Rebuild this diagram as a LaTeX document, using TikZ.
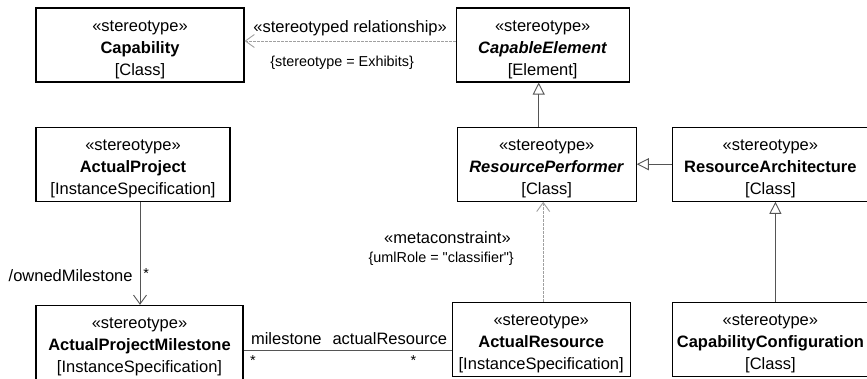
\documentclass[tikz,border=0pt]{standalone}
\usepackage{fontspec}
\setmainfont{Liberation Sans}[Ligatures=TeXOff]
\usepackage{xcolor}
\usetikzlibrary{arrows.meta, positioning, calc}
\definecolor{darkline}{HTML}{555555}
\definecolor{lightline}{HTML}{A0A0A0}
\newcommand{\stereobox}[2]{\rule{0pt}{20pt}«stereotype»\\#1\\{[#2]}}
\tikzset{
	stereo/.style={rectangle, draw, line width=1.2pt, align=center, inner sep=0pt,
		minimum height=74pt, font=\fontsize{16.5}{22}\selectfont},
	gen/.style={-{Triangle[open, length=12pt, width=12pt]}, line width=0.9pt, draw=darkline},
	nav/.style={-{Straight Barb[length=9pt, width=13pt]}, line width=0.9pt, draw=darkline},
	meta/.style={nav, draw=lightline, dash pattern=on 3pt off 1pt},
	assoc/.style={line width=0.9pt, draw=darkline},
	lbl/.style={font=\fontsize{16.5}{20}\selectfont, inner sep=0pt},
	slbl/.style={font=\fontsize{14.4}{17}\selectfont, inner sep=0pt},
}

\begin{document}
\begin{tikzpicture}
	\useasboundingbox (0pt,0pt) rectangle (867pt,-378pt);
	\node[stereo, minimum width=208pt] (cap) at (140pt,-45pt) {\stereobox{\textbf{Capability}}{Class}};
	\node[stereo, minimum width=173pt, right=211pt of cap] (ce) {\stereobox{\textbf{\textit{CapableElement}}}{Element}};
	\node[stereo, minimum width=179pt, below=44pt of ce, xshift=4pt] (rp) {\stereobox{\textbf{\textit{ResourcePerformer}}}{Class}};
	\node[stereo, minimum width=196pt, right=35pt of rp] (ra) {\stereobox{\textbf{ResourceArchitecture}}{Class}};
	\node[stereo, minimum width=194pt, below=44pt of cap, xshift=-7pt] (ap) {\stereobox{\textbf{ActualProject}}{InstanceSpecification}};
	\node[stereo, minimum width=207pt, below=103pt of ap, xshift=6.5pt] (apm) {\stereobox{\textbf{ActualProjectMilestone}}{InstanceSpecification}};
	\node[stereo, minimum width=178pt, below=100pt of rp, xshift=-5.5pt] (ar) {\stereobox{\textbf{ActualResource}}{InstanceSpecification}};
	\node[stereo, minimum width=196pt, below=100pt of ra] (cc) {\stereobox{\textbf{CapabilityConfiguration}}{Class}};

	\draw[meta] ([yshift=4pt]ce.west) -- node[lbl, above=5pt] {«stereotyped relationship»}
		node[slbl, below=15pt, xshift=-8pt] {\{stereotype = Exhibits\}} ([yshift=4pt]ce.west -| cap.east);
	\draw[gen] ([xshift=-8pt]rp.north) -- ([xshift=-8pt]rp.north |- ce.south);
	\draw[gen] (ra) -- (rp);
	\draw[gen] ([xshift=5pt]cc.north) -- ([xshift=5pt]cc.north |- ra.south);
	\draw[meta] ([xshift=2pt]ar.north) -- node[lbl, pos=0.64, left=32pt] {«metaconstraint»}
		node[slbl, pos=0.43, left=29pt] {\{umlRole = "classifier"\}} ([xshift=2pt]ar.north |- rp.south);
	\draw[nav] ([xshift=7pt]ap.south) -- node[lbl, pos=0.72, left=7pt] {/ownedMilestone}
		node[slbl, pos=0.7, right=3pt] {*} ([xshift=7pt]ap.south |- apm.north);
	\draw[assoc] ([yshift=-8pt]apm.east) --
		node[lbl, pos=0, anchor=south west, xshift=7pt, yshift=5pt] {milestone}
		node[slbl, pos=0, anchor=north west, xshift=6pt, yshift=-5pt] {*}
		node[lbl, pos=1, anchor=south east, xshift=-4pt, yshift=5pt] {actualResource}
		node[slbl, pos=1, anchor=north east, xshift=-35pt, yshift=-5pt] {*}
		([yshift=-8pt]apm.east -| ar.west);
\end{tikzpicture}
\end{document}
